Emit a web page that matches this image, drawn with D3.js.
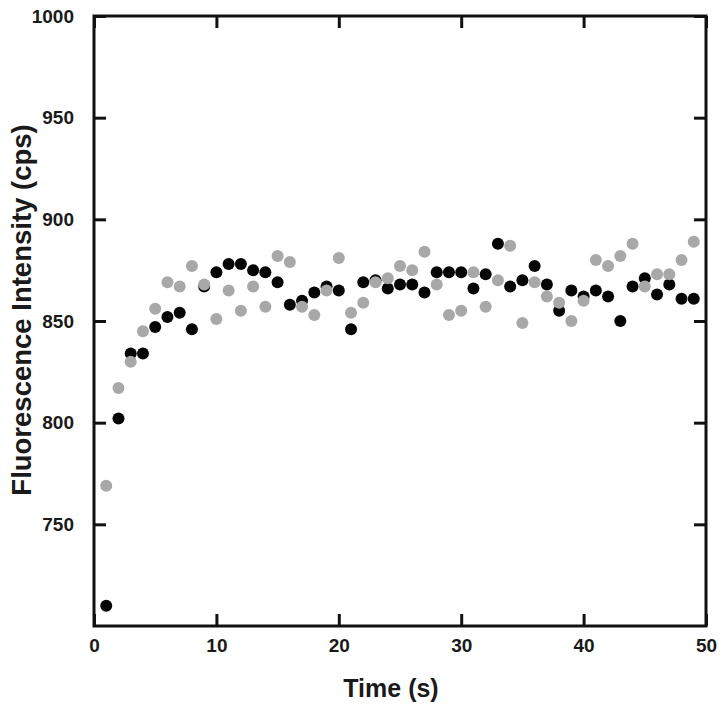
<!DOCTYPE html>
<html>
<head>
<meta charset="utf-8">
<script src="https://cdn.jsdelivr.net/npm/d3@7"></script>
<style>
  body { margin: 0; background: #fff; }
  svg text { font-family: "Liberation Sans", Arial, sans-serif; font-weight: bold; fill: #1a1a1a; }
</style>
</head>
<body>
<div id="chart"></div>
<script>
var time = d3.range(1, 50);

var blackSeries = [710, 802, 834, 834, 847, 852, 854, 846, 867, 874,
  878, 878, 875, 874, 869, 858, 860, 864, 867, 865,
  846, 869, 870, 866, 868, 868, 864, 874, 874, 874,
  866, 873, 888, 867, 870, 877, 868, 855, 865, 862,
  865, 862, 850, 867, 871, 863, 868, 861, 861];

var graySeries = [769, 817, 830, 845, 856, 869, 867, 877, 868, 851,
  865, 855, 867, 857, 882, 879, 857, 853, 865, 881,
  854, 859, 869, 871, 877, 875, 884, 868, 853, 855,
  874, 857, 870, 887, 849, 869, 862, 859, 850, 860,
  880, 877, 882, 888, 867, 873, 873, 880, 889];

var xTicks = [0, 10, 20, 30, 40, 50],
    yTicks = [750, 800, 850, 900, 950, 1000];

var width = 724, height = 714,
    mLeft = 94, mRight = 706, mTop = 16, mBottom = 626;

var svg = d3.select('#chart').append('svg')
    .attr('width', width)
    .attr('height', height);

var x = d3.scaleLinear().domain([0, 50]).range([mLeft, mRight]),
    y = d3.scaleLinear().domain([700, 1000]).range([mBottom, mTop]);

function styleAxis(g, showLabels){
  g.select('.domain').remove();
  g.selectAll('.tick line').attr('stroke', '#111').attr('stroke-width', 3);
  g.selectAll('.tick text')
    .attr('font-size', 19)
    .attr('fill', '#1a1a1a')
    .style('display', showLabels ? null : 'none');
}

// bottom + left carry labels, top + right just mirror the ticks
svg.append('g')
    .attr('transform', 'translate(0,' + mBottom + ')')
    .call(d3.axisBottom(x).tickValues(xTicks).tickSize(-12).tickPadding(13))
    .call(styleAxis, true);

svg.append('g')
    .attr('transform', 'translate(0,' + mTop + ')')
    .call(d3.axisTop(x).tickValues(xTicks).tickSize(-12))
    .call(styleAxis, false);

svg.append('g')
    .attr('transform', 'translate(' + mLeft + ',0)')
    .call(d3.axisLeft(y).tickValues(yTicks).tickFormat(d3.format('d')).tickSize(-12).tickPadding(20))
    .call(styleAxis, true);

svg.append('g')
    .attr('transform', 'translate(' + mRight + ',0)')
    .call(d3.axisRight(y).tickValues(yTicks).tickSize(-12))
    .call(styleAxis, false);

// frame
svg.append('rect')
    .attr('x', mLeft)
    .attr('y', mTop)
    .attr('width', mRight - mLeft)
    .attr('height', mBottom - mTop)
    .attr('fill', 'none')
    .attr('stroke', '#111')
    .attr('stroke-width', 3);

function drawSeries(values, color){
  svg.append('g').selectAll('circle')
      .data(values)
    .enter().append('circle')
      .attr('cx', function(d, i){ return x(time[i]); })
      .attr('cy', function(d){ return y(d); })
      .attr('r', 6)
      .attr('fill', color);
}

drawSeries(blackSeries, '#050505');
drawSeries(graySeries, '#a8a8a8');

svg.append('text')
    .attr('x', 391)
    .attr('y', 697)
    .attr('text-anchor', 'middle')
    .attr('font-size', 25)
    .text('Time (s)');

svg.append('text')
    .attr('transform', 'translate(31,310) rotate(-90)')
    .attr('text-anchor', 'middle')
    .attr('font-size', 27.5)
    .text('Fluorescence Intensity (cps)');
</script>
</body>
</html>
